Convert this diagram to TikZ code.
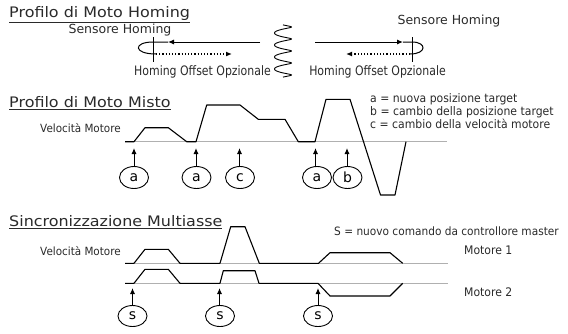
\documentclass[tikz,border=0pt]{standalone}
\usepackage{fontspec}
\setmainfont{DejaVu Sans}
\newfontfamily\wideface[FakeStretch=1.1]{DejaVu Sans}
\newfontfamily\narrowface[FakeStretch=0.84]{DejaVu Sans}
\newfontfamily\legface[FakeStretch=0.92]{DejaVu Sans}
\usetikzlibrary{shapes.geometric,arrows.meta}
\definecolor{txt}{HTML}{2A2A2A}
\definecolor{base}{HTML}{B0B0B0}
\newcommand\ttlfont{\wideface\fontsize{14.5}{16}\selectfont}
\newcommand\senfont{\fontsize{12.5}{14}\selectfont}
\newcommand\offfont{\narrowface\fontsize{13}{15}\selectfont}
\newcommand\velfont{\legface\fontsize{11.3}{13}\selectfont}
\newcommand\legfont{\legface\fontsize{11.8}{14}\selectfont}
\newcommand\legsfont{\legface\fontsize{11.5}{14}\selectfont}
\newcommand\circfont{\fontsize{14}{16}\selectfont}
\begin{document}
\begin{tikzpicture}[x=1pt,y=-1pt,
  lbl/.style={inner sep=0, text=txt},
  ttl/.style={lbl, anchor=base west, font=\ttlfont},
  sen/.style={lbl, anchor=base, font=\senfont},
  off/.style={lbl, anchor=base, font=\offfont},
  vel/.style={lbl, anchor=base west, font=\velfont},
  leg/.style={lbl, anchor=base west, font=\legfont},
  circmark/.style={draw, ellipse, inner sep=0, minimum width=29pt, minimum height=22pt, font=\circfont, line width=0.9pt},
  baseln/.style={draw=base, line width=1.2pt},
  prof/.style={draw=black, line width=1.1pt, line join=round},
  upar/.style={draw, line width=1pt, -{Latex[length=6pt,width=5pt]}},
  wire/.style={draw, line width=1pt},
  dotar/.style={draw, line width=1.2pt, dotted, -{Latex[length=6pt,width=5pt]}}
]
\useasboundingbox (0,0) rectangle (568,333);

% ---------------- Homing ----------------
\node[ttl] (t1) at (9,17.5) {\underline{Profilo di Moto Homing}};
\node[sen] (senL) at (120,33.5) {Sensore Homing};
\node[sen] (senR) at (449,24) {Sensore Homing};
\node[off] (offL) at (202.5,75) {Homing Offset Opzionale};
\node[off] (offR) at (377.5,75) {Homing Offset Opzionale};

% left sensor
\coordinate (sLtop) at (153,37);
\coordinate (sLbot) at (153,62);
\draw[wire] (sLtop) -- (sLbot);
\coordinate (aLs) at (260,42);
\coordinate (aLt) at (168,42);
\coordinate (aLe) at (153,42);
\coordinate (aLr) at (156,54);
\coordinate (dLe) at (232,54);
\draw[wire, -{Latex[length=6pt,width=5pt]}] (aLs) -- (aLt);
\draw[wire] (aLt) -- (aLe) .. controls (133,42) and (133,54) .. (aLr);
\draw[dotar] (aLr) -- (dLe);

% right sensor
\coordinate (sRtop) at (412,37);
\coordinate (sRbot) at (412,62);
\draw[wire] (sRtop) -- (sRbot);
\coordinate (aRs) at (315,42);
\coordinate (aRt) at (403,42);
\coordinate (aRe) at (412,42);
\coordinate (aRr) at (410,54);
\coordinate (dRe) at (346,54);
\draw[wire, -{Latex[length=6pt,width=5pt]}] (aRs) -- (aRt);
\draw[wire] (aRt) -- (aRe) .. controls (427,42) and (427,54) .. (aRr);
\draw[dotar] (aRr) -- (dRe);

% coil
\draw[line width=0.9pt, samples=160, domain=0:54, smooth]
  plot ({283+8.5*sin(30*\x)}, {24+\x+0.9*cos(30*\x)});

% ---------------- Misto ----------------
\node[ttl] (t2) at (9,107.5) {\underline{Profilo di Moto Misto}};
\node[vel] (v2) at (40,132.5) {Velocità Motore};
\coordinate (b2s) at (125,141.7);
\coordinate (b2e) at (447,141.7);
\draw[baseln] (b2s) -- (b2e);
\draw[prof] (b2s) -- (134,141.7) -- (145,127.7) -- (168.3,127.7) -- (186.7,141.7)
  -- (196,141.7) -- (206.7,105) -- (240,105) -- (258.3,119.3) -- (285,119.3)
  -- (298.3,141.7) -- (315,141.7) -- (326,99.3) -- (350,99.3) -- (380.5,195)
  -- (395,195) -- (406,141.7);

\node[circmark] (m1) at (134,177.5) {a};
\node[circmark] (m2) at (196.5,177.5) {a};
\node[circmark] (m3) at (240,177.5) {c};
\node[circmark] (m4) at (317,177.5) {a};
\node[circmark] (m5) at (347.5,177.5) {b};
\coordinate (p1) at (134,148);
\coordinate (p2) at (196,148);
\coordinate (p3) at (239.5,148);
\coordinate (p4) at (315.5,148);
\coordinate (p5) at (347,148);
\draw[upar] (m1) -- (p1);
\draw[upar] (m2.north -| p2) -- (p2);
\draw[upar] (m3.north -| p3) -- (p3);
\draw[upar] (m4.north -| p4) -- (p4);
\draw[upar] (m5.north -| p5) -- (p5);

\node[leg] (l1) at (370,102) {a = nuova posizione target};
\node[leg] (l2) at (370,115) {b = cambio della posizione target};
\node[leg] (l3) at (370,128) {c = cambio della velocità motore};

% ---------------- Sincro ----------------
\node[ttl] (t3) at (9,226.5) {\underline{Sincronizzazione Multiasse}};
\node[vel] (v3) at (40,255) {Velocità Motore};
\node[leg, font=\legsfont] (l4) at (334,235) {S = nuovo comando da controllore master};
\node[leg] (mo1) at (464,254) {Motore 1};
\node[leg] (mo2) at (464,296) {Motore 2};

\coordinate (b3s) at (125,263.3);
\coordinate (b3e) at (448,263.3);
\coordinate (b4s) at (125,283.3);
\coordinate (b4e) at (448,283.3);
\draw[baseln] (b3s) -- (b3e);
\draw[baseln] (b4s) -- (b4e);
\draw[prof] (b3s) -- (134,263.3) -- (145,249.3) -- (168.3,249.3) -- (180,263.3)
  -- (220,263.3) -- (230.7,226.7) -- (245,226.7) -- (259.3,263.3) -- (318.5,263.3)
  -- (330,252.7) -- (390,252.7) -- (402.7,263.3);
\draw[prof] (b4s) -- (134,283.3) -- (145,269.3) -- (168.3,269.3) -- (180,283.3)
  -- (220,283.3) -- (223.3,270.7) -- (255,270.7) -- (259,283.3) -- (318,283.3)
  -- (330,296) -- (390,296) -- (402.7,283.3);

\node[circmark, minimum height=21pt] (s1) at (132.5,316) {s};
\node[circmark, minimum height=21pt] (s2) at (220,316) {s};
\node[circmark, minimum height=21pt] (s3) at (318,316) {s};
\coordinate (q1) at (132.5,288);
\coordinate (q2) at (219.5,288);
\coordinate (q3) at (318,288);
\draw[upar] (s1) -- (q1);
\draw[upar] (s2.north -| q2) -- (q2);
\draw[upar] (s3) -- (q3);
\end{tikzpicture}
\end{document}
